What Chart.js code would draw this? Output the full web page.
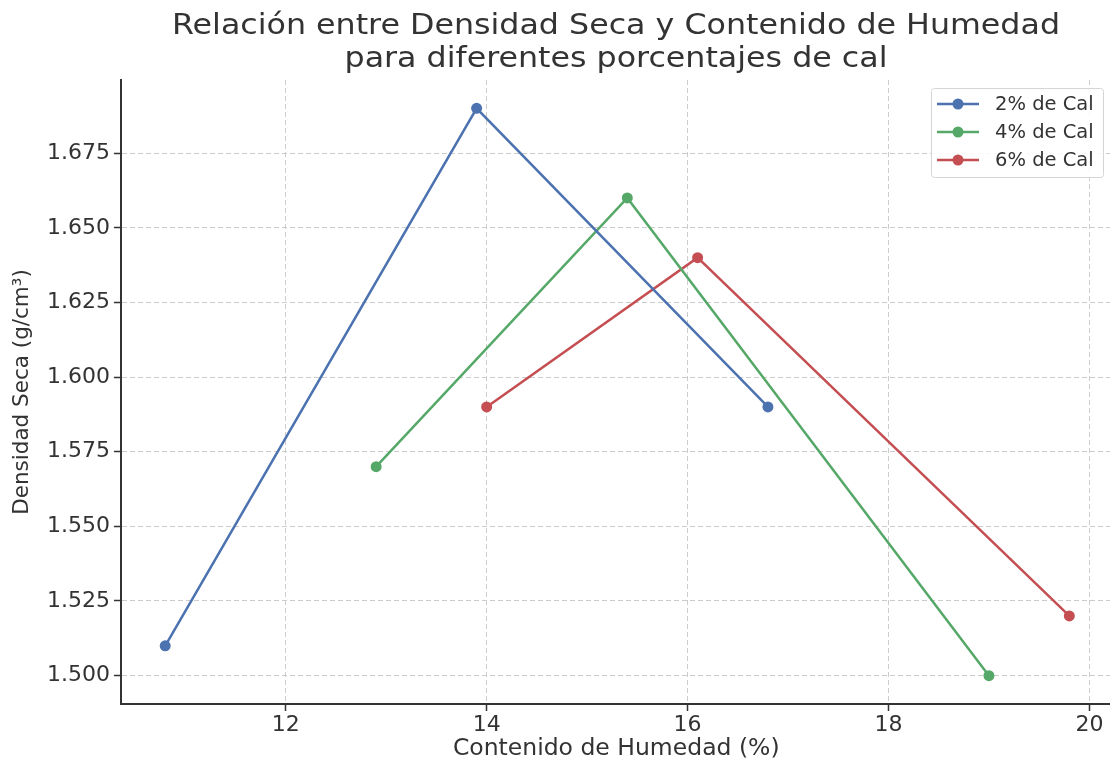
<!DOCTYPE html>
<html>
<head>
<meta charset="utf-8">
<script src="https://cdn.jsdelivr.net/npm/chart.js@4"></script>
<style>
html,body{margin:0;padding:0;background:#fff;overflow:hidden;}
#wrap{width:1110px;height:760px;position:relative;overflow:hidden;}
canvas{position:absolute;left:0;top:0;}
</style>
</head>
<body>
<div id="wrap"><canvas id="c" width="1117" height="760"></canvas></div>
<script>
const seriesLabels = ['2% de Cal', '4% de Cal', '6% de Cal'];
const humedad2 = [10.8, 13.9, 16.8];
const densidad2 = [1.510, 1.690, 1.590];
const humedad4 = [12.9, 15.4, 19.0];
const densidad4 = [1.570, 1.660, 1.500];
const humedad6 = [14.0, 16.1, 19.8];
const densidad6 = [1.590, 1.640, 1.520];
const xTicks = [12, 14, 16, 18, 20];
const yTicks = [1.500, 1.525, 1.550, 1.575, 1.600, 1.625, 1.650, 1.675];
const titleLines = ['Relación entre Densidad Seca y Contenido de Humedad', 'para diferentes porcentajes de cal'];
const xTitle = 'Contenido de Humedad (%)';
const yTitle = 'Densidad Seca (g/cm³)';
const colors = ['#4C72B0', '#55A868', '#C44E52'];

const toPts = (xs, ys) => xs.map((x, i) => ({x: x, y: ys[i]}));
const seriesData = [toPts(humedad2, densidad2), toPts(humedad4, densidad4), toPts(humedad6, densidad6)];

const FONT = "'DejaVu Sans', sans-serif";
const TXT = '#333333';

const titlePlugin = {
  id: 'mplTitle',
  afterDraw(chart) {
    const ctx = chart.ctx;
    ctx.save();
    ctx.fillStyle = TXT;
    ctx.font = '28px ' + FONT;
    ctx.textAlign = 'center';
    ctx.textBaseline = 'middle';
    const cx = 616;
    const w0 = ctx.measureText(titleLines[0]).width;
    const sx = 888 / w0;
    ctx.translate(cx, 0);
    ctx.scale(sx, 1);
    ctx.fillText(titleLines[0], 0, 27);
    ctx.fillText(titleLines[1], 0, 60);
    ctx.restore();
  }
};

const legendPlugin = {
  id: 'mplLegend',
  afterDraw(chart) {
    const ctx = chart.ctx;
    ctx.save();
    const bx = 931, by = 88, bw = 172, bh = 89;
    ctx.fillStyle = 'rgba(255,255,255,0.85)';
    ctx.strokeStyle = '#d5d5d5';
    ctx.lineWidth = 1;
    ctx.beginPath();
    if (ctx.roundRect) ctx.roundRect(bx + 0.5, by + 0.5, bw, bh, 3); else ctx.rect(bx + 0.5, by + 0.5, bw, bh);
    ctx.fill();
    ctx.stroke();
    ctx.font = '19.5px ' + FONT;
    ctx.textBaseline = 'middle';
    ctx.textAlign = 'left';
    chart.data.datasets.forEach((ds, i) => {
      const y = 104 + i * 28;
      ctx.strokeStyle = ds.borderColor;
      ctx.lineWidth = 2.5;
      ctx.beginPath();
      ctx.moveTo(937, y);
      ctx.lineTo(979, y);
      ctx.stroke();
      ctx.fillStyle = ds.borderColor;
      ctx.beginPath();
      ctx.arc(958, y, 5.5, 0, Math.PI * 2);
      ctx.fill();
      ctx.fillStyle = TXT;
      ctx.fillText(ds.label, 995, y + 1);
    });
    ctx.restore();
  }
};

new Chart(document.getElementById('c'), {
  type: 'scatter',
  data: {
    datasets: seriesLabels.map((lab, i) => ({
      label: lab,
      data: seriesData[i],
      showLine: true,
      borderColor: colors[i],
      backgroundColor: colors[i],
      borderWidth: 2.5,
      pointRadius: 5.5,
      pointHoverRadius: 5.5,
      pointBorderWidth: 0,
      tension: 0
    }))
  },
  options: {
    responsive: false,
    animation: false,
    devicePixelRatio: 1,
    layout: {padding: {top: 80, left: 0, right: 0, bottom: 0}},
    plugins: {
      legend: {display: false},
      title: {display: false},
      tooltip: {enabled: false}
    },
    scales: {
      x: {
        type: 'linear',
        min: 10.36,
        max: 20.22,
        afterFit: s => { s.height = 56; },
        afterBuildTicks: s => { s.ticks = xTicks.map(v => ({value: v})); },
        ticks: {
          color: TXT,
          font: {family: FONT, size: 22},
          padding: 1,
          maxRotation: 0,
          callback: v => String(v)
        },
        grid: {
          color: '#cccccc',
          lineWidth: 1,
          tickColor: '#333333',
          tickLength: 7,
          tickWidth: 1.5,
          drawOnChartArea: true
        },
        border: {display: true, color: '#333333', width: 2, dash: [5, 3]},
        title: {
          display: true,
          text: xTitle,
          color: TXT,
          font: {family: FONT, size: 23.5, lineHeight: 1},
          padding: {top: 0, bottom: -1}
        }
      },
      y: {
        type: 'linear',
        min: 1.4905,
        max: 1.6995,
        afterFit: s => { s.width = 121; },
        afterBuildTicks: s => { s.ticks = yTicks.map(v => ({value: v})); },
        ticks: {
          color: TXT,
          font: {family: FONT, size: 22},
          padding: 4,
          callback: v => Number(v).toFixed(3)
        },
        grid: {
          color: '#cccccc',
          lineWidth: 1,
          tickColor: '#333333',
          tickLength: 7,
          tickWidth: 1.5
        },
        border: {display: true, color: '#333333', width: 2, dash: [5, 3]},
        title: {
          display: true,
          text: yTitle,
          color: TXT,
          font: {family: FONT, size: 21.5, lineHeight: 1},
          padding: {top: 12, bottom: 0}
        }
      }
    }
  },
  plugins: [titlePlugin, legendPlugin]
});
</script>
</body>
</html>
